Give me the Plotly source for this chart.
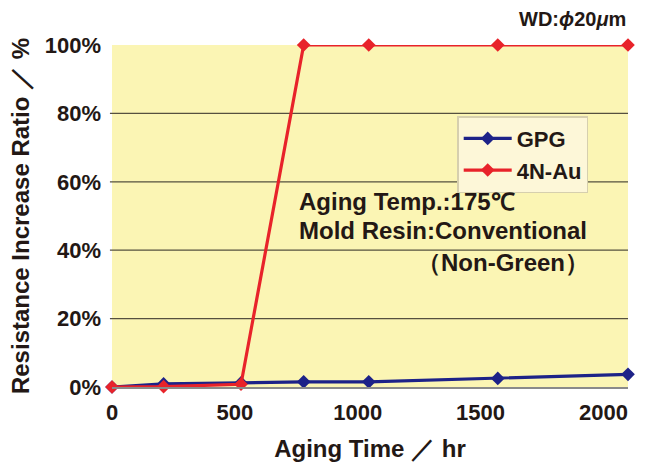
import plotly.graph_objects as go

aging_hr = [0, 210, 525, 780, 1045, 1570, 2100]
gpg = [0, 0.9, 1.2, 1.5, 1.5, 2.5, 3.7]
au4n = [0, 0.1, 0.8, 100, 100, 100, 100]
x_ticks = [0, 500, 1000, 1500, 2000]
y_ticks = [0, 20, 40, 60, 80, 100]
y_ticktext = [f"{v}%" for v in y_ticks]

FONT = "Liberation Sans"
TXT = "#231815"
BLUE = "#1d2288"
RED = "#e8232a"

fig = go.Figure()
fig.add_trace(go.Scatter(x=aging_hr, y=gpg, name="GPG", mode="lines+markers",
                         line=dict(color=BLUE, width=3.2),
                         marker=dict(symbol="diamond", size=10.5, color=BLUE),
                         cliponaxis=False))
fig.add_trace(go.Scatter(x=aging_hr, y=au4n, name="4N-Au", mode="lines+markers",
                         line=dict(color=RED, width=3.2),
                         marker=dict(symbol="diamond", size=10.5, color=RED),
                         cliponaxis=False))

for v in y_ticks[1:-1]:
    fig.add_shape(type="line", xref="paper", yref="y", x0=-0.004, x1=1, y0=v, y1=v,
                  line=dict(color="#55503f", width=1.2), layer="below")

fig.update_layout(
    width=645, height=463,
    margin=dict(l=112, r=17, t=45, b=76, autoexpand=False),
    paper_bgcolor="white",
    plot_bgcolor="#fbf5b4",
    font=dict(family=FONT, color=TXT),
    showlegend=True,
    legend=dict(x=0.669, y=0.792, xanchor="left", yanchor="top",
                bgcolor="#fdf7d8", bordercolor="#d6cfae", borderwidth=1.5,
                font=dict(size=22, family=FONT, color=TXT, weight="bold"),
                itemwidth=48, tracegroupgap=0),
    xaxis=dict(range=[0, 2100], tickvals=x_ticks, showgrid=False, zeroline=False,
               showline=True, linecolor="#8a8a8a", linewidth=2, automargin=False,
               ticks="", ticklabelstandoff=5,
               tickfont=dict(size=22, family=FONT, color=TXT, weight="bold"),
               title=dict(text="<b>Aging Time ／ hr</b>", font=dict(size=24, color=TXT), standoff=16)),
    yaxis=dict(range=[0, 100], tickvals=y_ticks, ticktext=y_ticktext, showgrid=False,
               zeroline=False, showline=False, ticks="", ticklabelstandoff=10, automargin=False,
               tickfont=dict(size=22, family=FONT, color=TXT, weight="bold"),
               title=dict(text="<b>Resistance Increase Ratio ／ %</b>", font=dict(size=24, color=TXT), standoff=8)),
)

fig.add_annotation(xref="paper", yref="paper", x=1, y=1.075, xanchor="right", yanchor="middle",
                   text="<b>WD:<i>ϕ</i>20<i>μ</i>m</b>", showarrow=False,
                   font=dict(size=20, family=FONT, color=TXT))
notes = ["Aging Temp.:175℃", "Mold Resin:Conventional", "（Non-Green）"]
note_x = [0.358, 0.358, 0.587]
note_y = [0.541, 0.459, 0.365]
for t, nx, ny in zip(notes, note_x, note_y):
    fig.add_annotation(xref="paper", yref="paper", x=nx, y=ny, xanchor="left", yanchor="middle",
                       text=f"<b>{t}</b>", align="left", showarrow=False,
                       font=dict(size=24, family=FONT, color=TXT))

fig.write_html("out.html", config={"displayModeBar": False},
               post_script="document.body.style.margin='0px';")
